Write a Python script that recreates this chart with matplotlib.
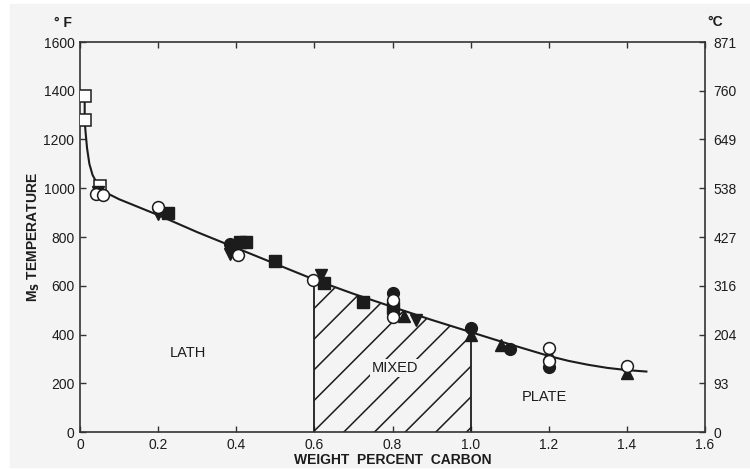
import matplotlib as mpl
import matplotlib.pyplot as plt
from matplotlib.patches import Polygon, Rectangle
import numpy as np

mpl.rcParams["font.family"] = ["Liberation Sans", "DejaVu Sans"]

BG = "#f4f4f4"
INK = "#1c1c1c"

# Ms curve (weight % C, deg F)
curve_wt = [0.012, 0.012, 0.014, 0.018, 0.024, 0.032, 0.042, 0.055, 0.075, 0.1,
            0.2, 0.3, 0.4, 0.5, 0.6, 0.7, 0.8, 0.9, 1.0, 1.1, 1.2, 1.25, 1.3,
            1.35, 1.4, 1.45]
curve_f = [1380, 1280, 1235, 1165, 1100, 1055, 1025, 1000, 975, 955,
           890, 820, 755, 690, 625, 567, 513, 460, 410, 360, 312, 292, 276,
           263, 254, 248]

# Measured points, grouped by symbol
open_sq_wt = [0.013, 0.013, 0.052]
open_sq_f = [1380, 1282, 1010]

open_circ_wt = [0.04, 0.06, 0.2, 0.405, 0.597, 0.8, 0.8, 1.2, 1.2, 1.4]
open_circ_f = [978, 972, 925, 726, 623, 472, 540, 345, 292, 272]

fill_sq_wt = [0.225, 0.41, 0.425, 0.5, 0.625, 0.725, 0.8]
fill_sq_f = [898, 778, 780, 700, 611, 535, 509]

fill_circ_wt = [0.385, 0.398, 0.8, 1.0, 1.1, 1.2]
fill_circ_f = [772, 768, 570, 427, 340, 267]

tri_up_wt = [0.83, 1.0, 1.077, 1.2, 1.4]
tri_up_f = [476, 396, 355, 318, 243]

tri_down_wt = [0.045, 0.2, 0.385, 0.617, 0.86]
tri_down_f = [985, 895, 732, 645, 460]

# Phase regions
mixed_lo, mixed_hi = 0.6, 1.0
region_names = ["LATH", "MIXED", "PLATE"]
region_wt = [0.276, 0.806, 1.19]
region_f = [325, 262, 144]

f_ticks = [0, 200, 400, 600, 800, 1000, 1200, 1400, 1600]
c_labels = ["0", "93", "204", "316", "427", "538", "649", "760", "871"]
wt_ticks = [0, 0.2, 0.4, 0.6, 0.8, 1.0, 1.2, 1.4, 1.6]
wt_labels = ["0", "0.2", "0.4", "0.6", "0.8", "1.0", "1.2", "1.4", "1.6"]

fig = plt.figure(figsize=(7.5, 4.69), dpi=100, facecolor="white")
fig.patches.append(Rectangle((10 / 750, 2 / 469), 1, 463 / 469,
                             transform=fig.transFigure, color=BG, zorder=-10))
ax = fig.add_axes([80 / 750, 1 - 432 / 469, 625 / 750, 390 / 469])
ax.set_facecolor(BG)
ax.set_xlim(0, 1.6)
ax.set_ylim(0, 1600)

# Mixed region under the curve, cross-hatched with 45 degree lines
cw = np.array(curve_wt)
cf = np.array(curve_f)
sel = (cw >= mixed_lo) & (cw <= mixed_hi)
verts = [(mixed_lo, 0)] + list(zip(cw[sel], cf[sel])) + [(mixed_hi, 0)]
region = Polygon(verts, closed=True, facecolor="none", edgecolor="none")
ax.add_patch(region)
slope = (625 / 1.6) / (390 / 1600)
for w0 in np.arange(mixed_lo - 0.003 - 6 * 0.0785, mixed_hi, 0.0785):
    xs = np.array([w0, w0 + 1.0])
    (ln,) = ax.plot(xs, (xs - w0) * slope, color=INK, lw=1.1, zorder=2)
    ln.set_clip_path(region)
for w in (mixed_lo, mixed_hi):
    ax.plot([w, w], [0, np.interp(w, cw, cf)], color=INK, lw=1.3, zorder=2)

ax.plot(curve_wt, curve_f, color=INK, lw=1.5, zorder=3)

ms = 8
ax.plot(open_sq_wt, open_sq_f, "s", ms=ms, mfc="white", mec=INK, mew=1.1, zorder=4)
ax.plot(fill_sq_wt, fill_sq_f, "s", ms=ms, mfc=INK, mec=INK, zorder=4)
ax.plot(fill_circ_wt, fill_circ_f, "o", ms=ms + 0.5, mfc=INK, mec=INK, zorder=4)
ax.plot(tri_up_wt, tri_up_f, "^", ms=ms, mfc=INK, mec=INK, zorder=4)
ax.plot(tri_down_wt, tri_down_f, "v", ms=ms, mfc=INK, mec=INK, zorder=4)
ax.plot(open_circ_wt, open_circ_f, "o", ms=ms + 0.5, mfc="white", mec=INK,
        mew=1.1, zorder=5)

for name, x, y in zip(region_names, region_wt, region_f):
    ax.text(x, y, name, ha="center", va="center", fontsize=10.5, color=INK,
            zorder=6, bbox=dict(facecolor=BG, edgecolor="none", pad=1.5))

# Axes styling
for s in ax.spines.values():
    s.set_color("#333333")
    s.set_linewidth(1.2)
ax.set_xticks(wt_ticks, wt_labels)
ax.set_yticks(f_ticks)
ax.tick_params(direction="in", length=4, width=1, color="#333333",
               labelsize=10, labelcolor=INK, top=True, right=True,
               labelright=False)
ax.tick_params(axis="x", pad=4)
ax.tick_params(axis="y", pad=4)

axc = ax.twinx()
axc.set_ylim(ax.get_ylim())
axc.set_yticks(f_ticks, c_labels)
axc.tick_params(direction="in", length=4, width=1, color="#333333",
                labelsize=10, labelcolor=INK, pad=6)
for s in axc.spines.values():
    s.set_visible(False)

ax.set_xlabel("WEIGHT  PERCENT  CARBON", fontsize=10, fontweight="bold",
              color=INK, labelpad=1)
ax.set_ylabel(r"M$_\mathbf{S}$ TEMPERATURE", fontsize=10, fontweight="bold",
              color=INK, labelpad=1)

fig.text(63 / 750, 1 - 23 / 469, "° F", fontsize=10, fontweight="bold",
         color=INK, ha="center", va="center")
fig.text(715 / 750, 1 - 22 / 469, "°C", fontsize=10, fontweight="bold",
         color=INK, ha="center", va="center")

fig.savefig("out.png", dpi=100, facecolor=fig.get_facecolor())
